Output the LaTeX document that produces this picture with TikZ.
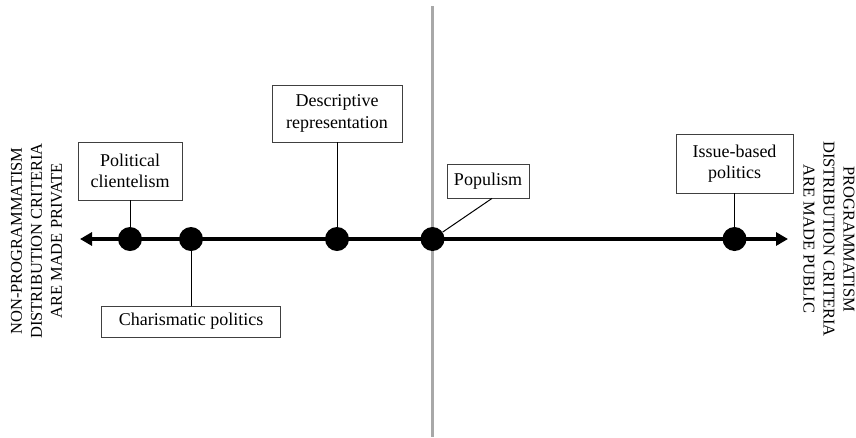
\documentclass[tikz,border=0pt]{standalone}
\usepackage{fontspec}
\setmainfont{Liberation Serif}
\usepackage{tikz}
\usetikzlibrary{arrows.meta, positioning}
\definecolor{midgray}{HTML}{A8A8A8}
\definecolor{boxline}{HTML}{404040}

\begin{document}
\begin{tikzpicture}[x=1pt, y=-1pt,
  box/.style={draw=boxline, line width=0.8pt, fill=white, align=center, inner sep=0pt,
    font=\fontsize{18}{21.5}\selectfont},
  dot/.style={circle, fill=black, inner sep=0pt, minimum size=24pt},
  link/.style={draw=black, line width=1pt},
  side/.style={align=center, font=\fontsize{16.5}{20}\selectfont}]
  \useasboundingbox (0,0) rectangle (856,437);
  % divider and axis
  \draw[midgray, line width=3pt] (432.5,6) -- (432.5,437);
  \coordinate (lend) at (80,239);
  \coordinate (rend) at (788,239);
  \draw[line width=4pt, {Triangle[length=12pt,width=13pt]}-{Triangle[length=12pt,width=13pt]}] (lend) -- (rend);
  \foreach \n/\x in {dclient/130, dcharism/191, ddescr/337, dpop/432.5, dissue/734.5}{
    \node[dot] (\n) at (\x,239) {};
  }
  % labels
  \node[box, minimum width=104pt, minimum height=58pt] (clientel) at (130,171) {Political\\clientelism};
  \node[box, minimum width=179pt, minimum height=31pt] (charism) at (191,321.5) {Charismatic politics};
  \node[box, minimum width=130pt, minimum height=57pt] (descr) at (337,113.5) {Descriptive\\representation};
  \node[box, minimum width=82pt, minimum height=34pt] (popul) at (488,181) {Populism};
  \node[box, minimum width=117pt, minimum height=59pt] (issue) at (734.5,163.5) {Issue-based\\politics};
  \draw[link] (clientel) -- (dclient);
  \draw[link] (charism) -- (dcharism);
  \draw[link] (descr) -- (ddescr);
  \draw[link] ([xshift=4pt]popul.south) -- (dpop);
  \draw[link] (issue) -- (dissue);
  \node[side, rotate=90] (nonprog) at (36.5,241) {NON-PROGRAMMATISM\\DISTRIBUTION CRITERIA\\ARE MADE PRIVATE};
  \node[side, rotate=-90] (prog) at (829,239) {PROGRAMMATISM\\DISTRIBUTION CRITERIA\\ARE MADE PUBLIC};
\end{tikzpicture}
\end{document}
